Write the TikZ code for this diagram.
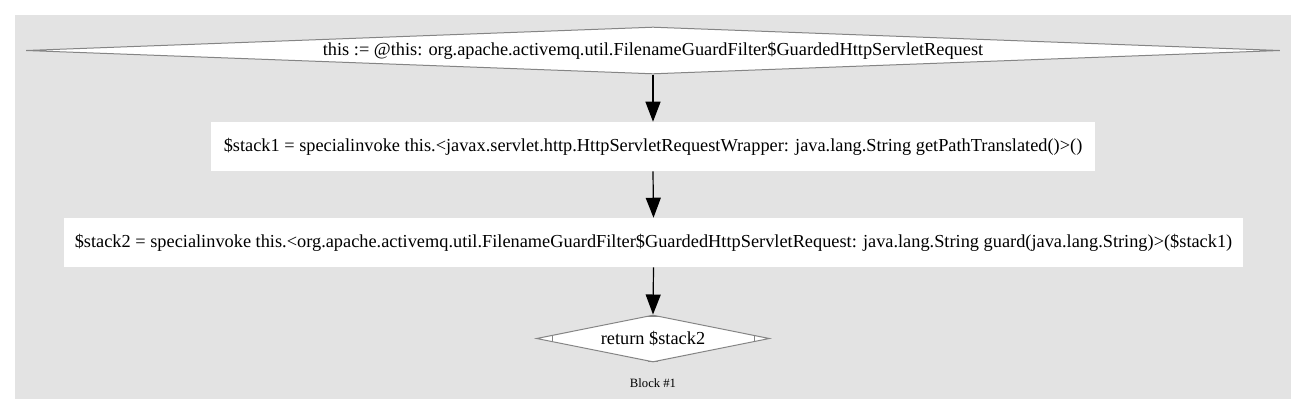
\documentclass[tikz,border=0pt]{standalone}
\usepackage{fontspec}
\setmainfont{Liberation Serif}
\usetikzlibrary{shapes.geometric,arrows.meta,calc}
\definecolor{panel}{HTML}{E3E3E3}
\definecolor{edgegray}{HTML}{858585}
\newdimen\pxu \pxu=0.75pt
\begin{document}
\begin{tikzpicture}[x=0.75pt,y=-0.75pt,
  lbl/.style={font=\fontsize{13.75}{16}\selectfont},
  stmt/.style={rectangle,fill=white,inner sep=0pt,lbl},
  cond/.style={diamond,draw=edgegray,fill=white,line width=0.75pt,inner sep=0pt,lbl},
  cornermark/.style={draw=edgegray,line width=0.75pt},
  flow/.style={-{Triangle[length=15pt,width=11.25pt]},line width=0.9pt,black}]
\useasboundingbox (0,0) rectangle (1307,415);
\fill[white] (0,0) rectangle (1307,415);
\fill[panel] (15,15) rectangle (1291,399);
\node[cond,minimum width=1254\pxu,minimum height=47\pxu,aspect=26.7] (n0) at (653,50.5)
  {this := @this: org.apache.activemq.util.FilenameGuardFilter\$GuardedHttpServletRequest};
\node[stmt,minimum width=884\pxu,minimum height=49\pxu] (n1) at (653,146.5)
  {\$stack1 = specialinvoke this.<javax.servlet.http.HttpServletRequestWrapper: java.lang.String getPathTranslated()>()};
\node[stmt,minimum width=1179\pxu,minimum height=49\pxu] (n2) at (653.5,242.5)
  {\$stack2 = specialinvoke this.<org.apache.activemq.util.FilenameGuardFilter\$GuardedHttpServletRequest: java.lang.String guard(java.lang.String)>(\$stack1)};
\node[cond,minimum width=233\pxu,minimum height=47\pxu,aspect=5] (n3) at (653,338.5)
  {return \$stack2};
\draw[cornermark] ($(n3.west)+(16,-3.2)$) -- ($(n3.west)+(16,3.2)$);
\draw[cornermark] ($(n3.east)+(-16,-3.2)$) -- ($(n3.east)+(-16,3.2)$);
\draw[cornermark] ($(n3.north)+(-5,1.5)$) -- ($(n3.north)+(5,1.5)$);
\draw[cornermark] ($(n3.south)+(-5,-1.5)$) -- ($(n3.south)+(5,-1.5)$);
\node[font=\fontsize{9.5}{11}\selectfont] (blk) at (653,383) {Block \#1};
\draw[flow] (n0.south) -- (n1.north);
\draw[flow] (n1.south) -- (n2.north);
\draw[flow] (n2.south) -- (n3.north);
\end{tikzpicture}
\end{document}
